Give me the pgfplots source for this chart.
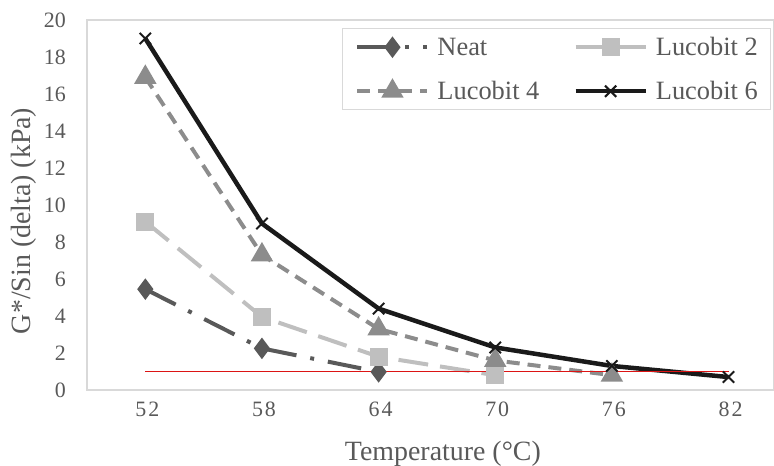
\documentclass[border=0pt]{standalone}
\usepackage{pgfplots}
\pgfplotsset{compat=1.18}
\usepackage{fontspec}
\setmainfont{Liberation Serif}
\definecolor{txt}{HTML}{595959}
\definecolor{frame}{HTML}{D9D9D9}
\definecolor{neat}{HTML}{595959}
\definecolor{lucA}{HTML}{BFBFBF}
\definecolor{lucB}{HTML}{8C8C8C}
\definecolor{lucC}{HTML}{1A1A1A}
\definecolor{redl}{RGB}{220,20,20}
\begin{document}
\begin{tikzpicture}
\begin{axis}[
  at={(0,0)}, anchor=south west,
  scale only axis,
  width=687bp, height=370bp,
  xmin=-0.5, xmax=5.39,
  ymin=0, ymax=20,
  xtick={0,1,2,3,4,5},
  xticklabels={52,58,64,70,76,82},
  ytick={0,2,...,20},
  major tick length=0pt,
  axis line style={frame, line width=1.2bp},
  /pgf/number format/assume math mode=true,
  ticklabel style={font=\fontsize{22}{26}\selectfont, text=txt, inner sep=0pt},
  xticklabel style={anchor=north, yshift=-12bp, xshift=2bp, font=\fontsize{22}{26}\selectfont\addfontfeature{LetterSpace=9}},
  yticklabel style={anchor=east, xshift=-21bp},
  xlabel={Temperature (°C)},
  ylabel={G*/Sin (delta) (kPa)},
  label style={font=\fontsize{28}{32}\selectfont, text=txt},
  xlabel style={at={(axis description cs:0.518,0)}, anchor=north, yshift=-51bp, inner sep=0pt},
  ylabel style={at={(axis description cs:0,0.457)}, anchor=south, yshift=50bp, inner sep=0pt},
  legend columns=2,
  legend cell align=left,
  legend style={at={(axis description cs:0.371,0.978)}, anchor=north west, draw=frame, line width=1.2bp,
    font=\fontsize{26.5}{30}\selectfont, text=txt, inner xsep=13bp, inner ysep=8bp,
    nodes={inner sep=0pt, text height=19bp, text depth=2bp},
    row sep=23bp,
    /tikz/every odd column/.style={column sep=8bp},
    /tikz/every even column/.style={column sep=34bp}},
  legend image code/.code={\draw[mark repeat=2,mark phase=2] plot coordinates {(0bp,0bp)(35bp,0bp)(70bp,0bp)};},
  clip=false,
]
\addplot[neat, line width=4bp, dash pattern=on 34bp off 14bp on 4bp off 14bp, mark=diamond*, mark size=7.5bp, mark options={solid}]
  coordinates {(0,5.45)(1,2.25)(2,0.98)};
\addlegendentry{Neat}
\addplot[lucA, line width=4bp, dash pattern=on 30bp off 12bp, mark=square*, mark size=7bp, mark options={solid}]
  coordinates {(0,9.1)(1,3.95)(2,1.8)(3,0.8)};
\addlegendentry{Lucobit 2}
\addplot[lucB, line width=4bp, dash pattern=on 13bp off 8bp, mark=triangle*, mark size=9bp, mark options={solid}]
  coordinates {(0,16.9)(1,7.3)(2,3.3)(3,1.6)(4,0.8)};
\addlegendentry{Lucobit 4}
\addplot[lucC, line width=4.5bp, mark=x, mark size=8bp, mark options={solid, line width=2bp}]
  coordinates {(0,19.0)(1,9.0)(2,4.4)(3,2.3)(4,1.3)(5,0.7)};
\addlegendentry{Lucobit 6}
\addplot[redl, line width=1.6bp, forget plot] coordinates {(0,1)(5,1)};
\end{axis}
\pgfresetboundingbox
\path (-87bp,-76bp) rectangle (687bp,390bp);
\end{tikzpicture}
\end{document}
